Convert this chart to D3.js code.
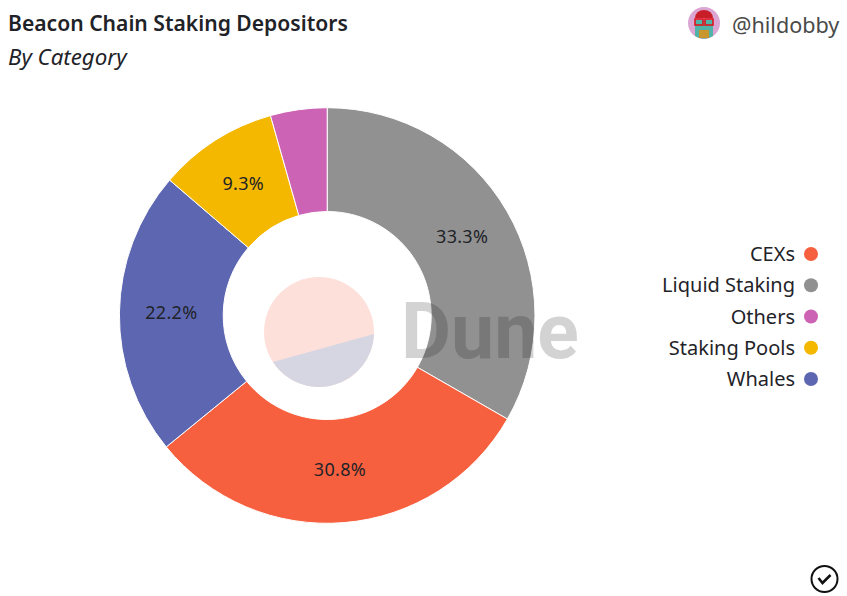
<html>
<head>
<meta charset="utf-8">
<style>
  body { margin: 0; background: #fff; }
  text { font-family: "Noto Sans", sans-serif; fill: #1f2328; }
</style>
</head>
<body>
<script src="https://d3js.org/d3.v7.min.js"></script>
<script>
// slices, clockwise from 12 o'clock
var categories = ["Liquid Staking", "CEXs", "Whales", "Staking Pools", "Others"];
var shares = [33.3, 30.8, 22.2, 9.3, 4.4];
var colors = ["#919191", "#f7603e", "#5d67b1", "#f4b800", "#cc63b4"];
var hideLabelBelow = 5;

// legend is alphabetical
var legendNames = ["CEXs", "Liquid Staking", "Others", "Staking Pools", "Whales"];

var svg = d3.select("body").append("svg")
  .attr("width", 847)
  .attr("height", 596);

var color = d3.scaleOrdinal().domain(categories).range(colors);

// title block
svg.append("text").attr("x", 8).attr("y", 31)
  .style("font-size", "21.1px").style("font-weight", 600)
  .text("Beacon Chain Staking Depositors");
svg.append("text").attr("x", 8).attr("y", 65)
  .style("font-size", "22.3px").style("font-style", "italic")
  .text("By Category");

// donut
var donut = svg.append("g").attr("transform", "translate(327.2,315.5)");
var pie = d3.pie().sort(null).value(function(d) { return d.share; });
var arc = d3.arc().innerRadius(104).outerRadius(207.8);
var rows = categories.map(function(c, i) { return {name: c, share: shares[i]}; });

donut.selectAll("path")
  .data(pie(rows))
  .enter().append("path")
    .attr("d", arc)
    .attr("fill", function(d) { return color(d.data.name); })
    .attr("stroke", "#fff")
    .attr("stroke-width", 1);

donut.selectAll("text")
  .data(pie(rows).filter(function(d) { return d.data.share >= hideLabelBelow; }))
  .enter().append("text")
    .attr("transform", function(d) { return "translate(" + arc.centroid(d) + ")"; })
    .attr("text-anchor", "middle")
    .attr("dy", "0.3em")
    .style("font-size", "18px")
    .style("letter-spacing", "0.3px")
    .text(function(d) { return d.data.share.toFixed(1) + "%"; });

// Dune watermark: disc cut by a chord
var logo = svg.append("g").attr("transform", "translate(319,332)");
logo.append("circle").attr("r", 55).attr("fill", "#fde0da");
var chord = d3.path();
chord.arc(0, 0, 55, 2 * Math.PI / 180, 147 * Math.PI / 180);
chord.closePath();
logo.append("path").attr("d", chord.toString()).attr("fill", "#d6d6e3");

svg.append("text").attr("x", 401).attr("y", 358)
  .style("font-family", "Roboto").style("font-size", "77px").style("font-weight", 700)
  .style("fill", "#000").style("opacity", 0.17)
  .text("Dune");

// legend
var legendY = d3.scalePoint().domain(legendNames).range([254, 379]);
var legend = svg.append("g").selectAll("g")
  .data(legendNames)
  .enter().append("g")
    .attr("transform", function(d) { return "translate(0," + legendY(d) + ")"; });
legend.append("circle").attr("cx", 811).attr("r", 7)
  .attr("fill", function(d) { return color(d); });
legend.append("text").attr("x", 795).attr("dy", "0.35em")
  .attr("text-anchor", "end")
  .style("font-size", "20px")
  .text(function(d) { return d; });

// author
svg.append("text").attr("x", 732).attr("y", 33)
  .style("font-size", "21.6px").style("fill", "#4a4a4a")
  .text("@hildobby");

var avatar = svg.append("g").attr("transform", "translate(704,23)");
avatar.append("circle").attr("r", 16).attr("fill", "#dba6d3");
avatar.append("path").attr("d", "M-9 13 L-9 -3 L9 -3 L9 13 A16 16 0 0 1 -9 13Z").attr("fill", "#4fb3a5");
avatar.append("rect").attr("x", -5).attr("y", 7).attr("width", 10).attr("height", 8).attr("fill", "#c9952f");
avatar.append("path").attr("d", "M-9 -5 A9 8 0 0 1 9 -5Z").attr("fill", "#c81e28");
avatar.selectAll("rect.lens")
  .data([-9, 1])
  .enter().append("rect")
    .attr("class", "lens")
    .attr("x", function(d) { return d; })
    .attr("y", -4).attr("width", 8).attr("height", 6)
    .attr("fill", "none").attr("stroke", "#e0141e").attr("stroke-width", 1.6);

// check badge
var badge = svg.append("g").attr("transform", "translate(824.5,579)");
badge.append("circle").attr("r", 13).attr("fill", "none").attr("stroke", "#111").attr("stroke-width", 2);
badge.append("path").attr("d", "M-6 -1 L-2 4 L6 -4").attr("fill", "none")
  .attr("stroke", "#111").attr("stroke-width", 2.6);
</script>
</body>
</html>
